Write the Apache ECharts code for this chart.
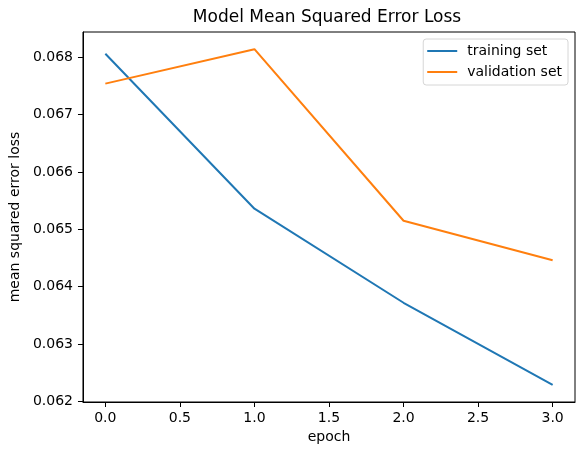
<!DOCTYPE html>
<html>
<head>
<meta charset="utf-8">
<script src="https://cdn.jsdelivr.net/npm/echarts@6/dist/echarts.min.js"></script>
<style>
  html, body { margin: 0; padding: 0; background: #fff; }
  #chart { width: 588px; height: 455px; }
</style>
</head>
<body>
<div id="chart"></div>
<script>
// data
const epochs = [0, 1, 2, 3]
const trainLoss = [0.06806, 0.06536, 0.06372, 0.06229]
const valLoss = [0.06754, 0.06814, 0.06515, 0.06446]
const xTicks = [0, 0.5, 1, 1.5, 2, 2.5, 3]
const yTicks = [0.062, 0.063, 0.064, 0.065, 0.066, 0.067, 0.068]
const seriesNames = ['training set', 'validation set']

const font = 'DejaVu Sans'
let myChart = echarts.init(document.getElementById('chart'))

let opt = {
  animation: false,
  backgroundColor: '#fff',
  textStyle: { fontFamily: font, color: '#000' },
  // title, centred over the plot area
  graphic: [{
    type: 'text',
    x: 327,
    y: 18,
    style: {
      text: 'Model Mean Squared Error Loss',
      fontFamily: font,
      fontSize: 17,
      fill: '#000',
      align: 'center',
      verticalAlign: 'middle'
    }
  }],
  grid: {
    left: 79, right: 13, top: 32, bottom: 53,
    show: true, borderColor: '#000', borderWidth: 1
  },
  legend: {
    orient: 'vertical',
    right: 20,
    top: 39,
    icon: 'rect',
    itemWidth: 30,
    itemHeight: 2,
    itemGap: 7,
    padding: [5, 6, 6, 4],
    borderColor: '#d6d6d6',
    borderWidth: 1,
    borderRadius: 3,
    backgroundColor: 'rgba(255,255,255,0.8)',
    textStyle: { fontFamily: font, fontSize: 14, color: '#000', padding: [0, 0, 0, 5] },
    data: seriesNames
  },
  xAxis: {
    type: 'value',
    min: -0.15,
    max: 3.15,
    name: 'epoch',
    nameLocation: 'middle',
    nameGap: 27,
    nameTextStyle: { fontFamily: font, fontSize: 14, color: '#000' },
    axisLine: { show: true, onZero: false, lineStyle: { color: '#000', width: 1 } },
    axisTick: { show: true, length: 5, customValues: xTicks, lineStyle: { color: '#000' } },
    axisLabel: {
      customValues: xTicks,
      margin: 9,
      fontFamily: font, fontSize: 14, color: '#000',
      formatter: v => v.toFixed(1)
    },
    splitLine: { show: false }
  },
  yAxis: {
    type: 'value',
    min: 0.06199,
    max: 0.06844,
    name: 'mean squared error loss',
    nameLocation: 'middle',
    nameRotate: 90,
    nameGap: 58,
    nameTextStyle: { fontFamily: font, fontSize: 14, color: '#000' },
    axisLine: { show: true, onZero: false, lineStyle: { color: '#000', width: 1 } },
    axisTick: { show: true, length: 5, customValues: yTicks, lineStyle: { color: '#000' } },
    axisLabel: {
      customValues: yTicks,
      margin: 10,
      fontFamily: font, fontSize: 14, color: '#000',
      formatter: v => v.toFixed(3)
    },
    splitLine: { show: false }
  },
  series: [{
    name: seriesNames[0],
    type: 'line',
    showSymbol: false,
    color: '#1f77b4',
    lineStyle: { width: 2 },
    data: epochs.map((e, i) => [e, trainLoss[i]])
  }, {
    name: seriesNames[1],
    type: 'line',
    showSymbol: false,
    color: '#ff7f0e',
    lineStyle: { width: 2 },
    data: epochs.map((e, i) => [e, valLoss[i]])
  }]
}

myChart.setOption(opt)
</script>
</body>
</html>
